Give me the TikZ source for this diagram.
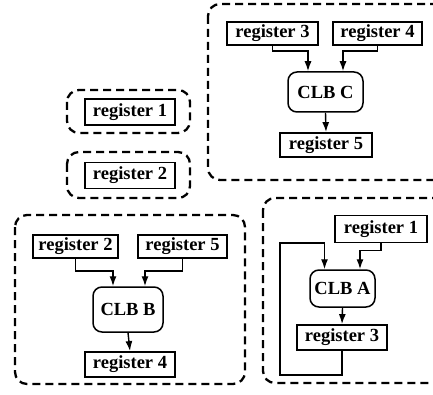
\documentclass[tikz,border=0pt]{standalone}
\usepackage{fontspec}
\setmainfont{Liberation Serif}
\usetikzlibrary{arrows.meta}
\tikzset{
  reg/.style={draw, line width=1.8pt, inner sep=0pt, minimum height=24pt, minimum width=90pt, font=\fontsize{18.5}{20}\selectfont\bfseries},
  clb/.style={draw, line width=1.5pt, rounded corners=9pt, inner sep=0pt, font=\fontsize{18.5}{20}\selectfont\bfseries},
  conn/.style={line width=1.4pt, -{Latex[length=10pt,width=7pt]}},
  group/.style={line width=2.3pt, dash pattern=on 8pt off 5pt, rounded corners=12pt}
}
\begin{document}
\begin{tikzpicture}[x=1pt,y=-1pt]
\clip (0,0) rectangle (433,395);
\fill[white] (0,0) rectangle (433,395);
% group boxes
\draw[group] (208,4) rectangle (460,180);
\draw[group] (67,90) rectangle (190,133);
\draw[group] (67,152) rectangle (190,198);
\draw[group] (15,215) rectangle (245,384);
\draw[group] (263,198) rectangle (460,383);
% top right
\node[reg, minimum width=91pt, minimum height=23pt] (r3c) at (272.5,33.5) {register 3};
\node[reg, minimum width=89pt, minimum height=23pt] (r4c) at (377.5,33.5) {register 4};
\node[clb, minimum width=75pt, minimum height=40pt] (clbc) at (325.5,92) {CLB C};
\node[reg, minimum width=92pt] (r5c) at (326,145) {register 5};
\draw[conn] (r3c.south) -- ++(0,5) -| ([xshift=-17.5pt]clbc.north);
\draw[conn] (r4c.south) -- ++(0,5) -| ([xshift=17.5pt]clbc.north);
\draw[conn] (clbc.south) -- (r5c.north);
% left singles
\node[reg, minimum height=26pt] (r1l) at (130,112) {register 1};
\node[reg, minimum height=26pt] (r2l) at (130,175.5) {register 2};
% bottom left
\node[reg, minimum width=85pt, minimum height=23pt] (r2b) at (75.5,246.5) {register 2};
\node[reg, minimum width=89pt, minimum height=23pt] (r5b) at (182.5,246.5) {register 5};
\node[clb, minimum width=70pt, minimum height=45pt] (clbb) at (128,309.5) {CLB B};
\node[reg, minimum height=25pt] (r4b) at (130,364.5) {register 4};
\draw[conn] (r2b.south) -- ++(0,12) -| ([xshift=-15pt]clbb.north);
\draw[conn] (r5b.south) -- ++(0,12) -| ([xshift=17pt]clbb.north);
\draw[conn] (clbb.south) -- (r4b.north);
% bottom right
\node[reg, minimum width=92pt, minimum height=27pt] (r1a) at (381,229) {register 1};
\node[clb, minimum width=65pt, minimum height=37pt] (clba) at (342.5,288.5) {CLB A};
\node[reg, minimum height=25pt] (r3a) at (342,337.5) {register 3};
\coordinate (fb1) at (280,375);
\coordinate (fb2) at (280,243);
\draw[conn] (r1a.south) -- ++(0,7) -| ([xshift=17.5pt]clba.north);
\draw[conn] (clba.south) -- (r3a.north);
\draw[conn] (r3a.south) |- (fb1) -- (fb2) -| ([xshift=-18pt]clba.north);
\end{tikzpicture}
\end{document}
